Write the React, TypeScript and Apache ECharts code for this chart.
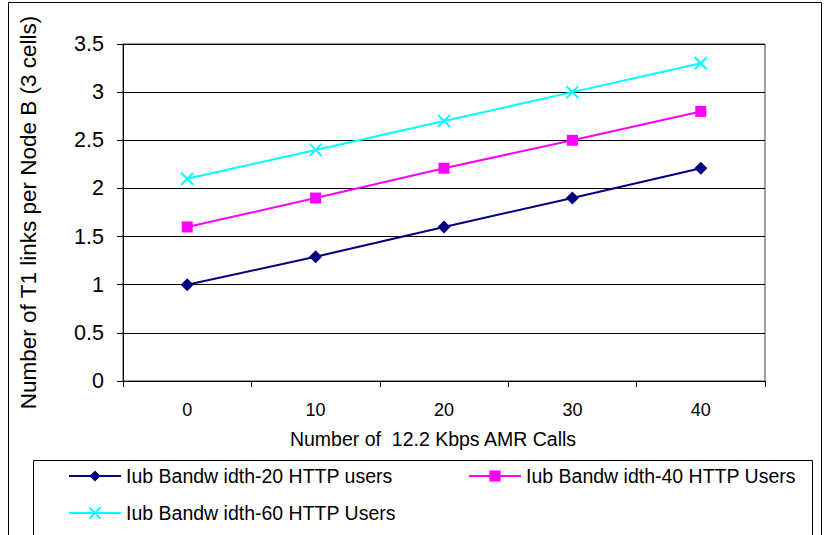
import React, { useEffect, useRef } from "react";
import * as echarts from "echarts";

const categories = ["0", "10", "20", "30", "40"];
const seriesNames = [
  "Iub Bandw idth-20 HTTP users",
  "Iub Bandw idth-40 HTTP Users",
  "Iub Bandw idth-60 HTTP Users",
];
const bw20 = [1.0, 1.29, 1.6, 1.9, 2.21];
const bw40 = [1.6, 1.9, 2.21, 2.5, 2.8];
const bw60 = [2.1, 2.4, 2.7, 3.0, 3.3];
const colors = ["#000080", "#FF00FF", "#00FFFF"];
const xTitle = "Number of  12.2 Kbps AMR Calls";
const yTitle = "Number of T1 links per Node B (3 cells)";

const FONT = "'Liberation Sans', Arial, sans-serif";
const crossSymbol = "path://M0,0L10,10M10,0L0,10";

export default function App() {
  const ref = useRef<HTMLDivElement>(null);
  useEffect(() => {
    document.body.style.margin = "0";
    const chart = echarts.init(ref.current!, null, { renderer: "svg" });
    const legendText = { fontFamily: FONT, fontSize: 19.5, color: "#000" };
    const legendBase = {
      itemWidth: 52,
      itemHeight: 14,
      padding: 0,
      textStyle: legendText,
    };
    chart.setOption({
      animation: false,
      backgroundColor: "#fff",
      grid: {
        left: 123,
        right: 60,
        top: 44,
        bottom: 154,
        show: true,
        borderColor: "#404040",
        borderWidth: 1,
      },
      xAxis: {
        type: "category",
        data: categories,
        boundaryGap: true,
        name: xTitle,
        nameLocation: "middle",
        nameGap: 48,
        nameTextStyle: {
          fontFamily: FONT,
          fontSize: 19.5,
          color: "#000",
          padding: [0, 22, 0, 0],
        },
        axisLine: { lineStyle: { color: "#000", width: 1 } },
        axisTick: { show: true, length: 6, lineStyle: { color: "#000" } },
        axisLabel: { fontFamily: FONT, fontSize: 18, color: "#000", margin: 20 },
      },
      yAxis: {
        type: "value",
        min: 0,
        max: 3.5,
        interval: 0.5,
        name: yTitle,
        nameLocation: "middle",
        nameGap: 83,
        nameTextStyle: { fontFamily: FONT, fontSize: 22.5, color: "#000" },
        axisLine: { show: true, lineStyle: { color: "#000", width: 1 } },
        axisTick: { show: true, length: 6, lineStyle: { color: "#000" } },
        axisLabel: { fontFamily: FONT, fontSize: 21.5, color: "#000", margin: 19 },
        splitLine: { show: true, lineStyle: { color: "#000", width: 1 } },
      },
      legend: [
        { ...legendBase, data: [seriesNames[0]], left: 68, top: 466 },
        { ...legendBase, data: [seriesNames[1]], left: 468, top: 466 },
        { ...legendBase, data: [seriesNames[2]], left: 68, top: 503 },
      ],
      graphic: [
        {
          type: "rect",
          shape: { x: 8.5, y: 2.5, width: 813, height: 600 },
          style: { fill: "none", stroke: "#000", lineWidth: 1 },
          z: -1,
        },
        {
          type: "rect",
          shape: { x: 33.5, y: 460.5, width: 779, height: 100 },
          style: { fill: "none", stroke: "#000", lineWidth: 1 },
        },
      ],
      series: [
        {
          name: seriesNames[0],
          type: "line",
          data: bw20,
          symbol: "diamond",
          symbolSize: 13,
          lineStyle: { color: colors[0], width: 2 },
          itemStyle: { color: colors[0] },
        },
        {
          name: seriesNames[1],
          type: "line",
          data: bw40,
          symbol: "rect",
          symbolSize: 11,
          lineStyle: { color: colors[1], width: 2 },
          itemStyle: { color: colors[1] },
        },
        {
          name: seriesNames[2],
          type: "line",
          data: bw60,
          symbol: crossSymbol,
          symbolSize: 12,
          lineStyle: { color: colors[2], width: 2 },
          itemStyle: { color: colors[2], borderColor: colors[2], borderWidth: 2 },
        },
      ],
    });
    return () => chart.dispose();
  }, []);
  return (
    <div
      ref={ref}
      style={{ position: "fixed", left: 0, top: 0, width: 825, height: 535 }}
    />
  );
}
